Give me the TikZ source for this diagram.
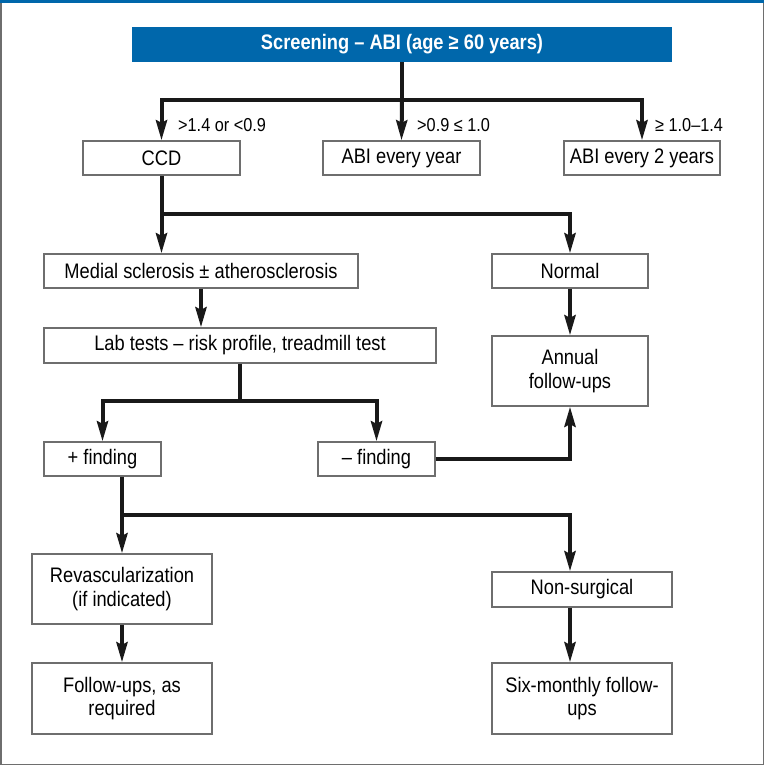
\documentclass[tikz,border=0pt]{standalone}
\usepackage{fontspec}
\setmainfont[FakeStretch=0.87]{Liberation Sans}
\usetikzlibrary{arrows.meta,calc}
\definecolor{titleblue}{RGB}{0,103,171}
\definecolor{framegray}{RGB}{110,110,110}
\tikzset{
  box/.style={draw=framegray, line width=1.4pt, fill=white, align=center, inner sep=0pt,
    font=\fontsize{21}{23.5}\selectfont},
  arr/.style={line width=4pt, draw=black!90, -{Stealth[length=20pt,width=11pt,inset=2.5pt]}},
  ln/.style={line width=4pt, draw=black!90},
  lbl/.style={font=\fontsize{18.7}{21}\selectfont, anchor=west, inner sep=0pt}
}
\begin{document}
\begin{tikzpicture}[x=1pt,y=-1pt]
\useasboundingbox (0,0) rectangle (764,765);
\fill[white] (0,0) rectangle (764,765);
\draw[framegray, line width=1.5pt] (0.75,2) -- (0.75,764.25) -- (763.25,764.25) -- (763.25,2);
\fill[titleblue] (0,0) rectangle (764,3);

\node[fill=titleblue, text=white, minimum width=540pt, minimum height=35pt, inner sep=0pt,
  font=\bfseries\fontsize{21}{24}\selectfont] (title) at (402,44.5) {Screening – ABI (age ≥ 60 years)};

\node[box, minimum width=157pt, minimum height=34pt] (ccd) at (161.5,158) {CCD};
\node[box, minimum width=157pt, minimum height=34pt] (abi1) at (401.5,158) {ABI every year};
\node[box, minimum width=156pt, minimum height=34pt] (abi2) at (642,158) {ABI every 2 years};

\node[box, minimum width=314pt, minimum height=34pt] (medial) at (201,271) {Medial sclerosis ± atherosclerosis};
\node[box, minimum width=156pt, minimum height=34pt] (normal) at (570,271) {Normal};

\node[box, minimum width=392pt, minimum height=35pt] (lab) at (240,345.5) {Lab tests – risk profile, treadmill test};
\node[box, minimum width=156pt, minimum height=70pt] (annual) at (570,371) {Annual\\follow-ups};

\node[box, minimum width=117pt, minimum height=34pt] (plus) at (102.5,459) {+ finding};
\node[box, minimum width=117pt, minimum height=34pt] (minus) at (376.5,459) {– finding};

\node[box, minimum width=180pt, minimum height=70pt] (revasc) at (122,589) {Revascularization\\(if indicated)};
\node[box, minimum width=180pt, minimum height=35pt] (nonsurg) at (582,589.5) {Non-surgical};
\node[box, minimum width=180pt, minimum height=71pt] (follow) at (122,698.5) {Follow-ups, as\\required};
\node[box, minimum width=180pt, minimum height=71pt] (six) at (582,698.5) {Six-monthly follow-\\ups};

\node[lbl] (l1) at (178,125) {>1.4 or <0.9};
\node[lbl] (l2) at (417,125) {>0.9 ≤ 1.0};
\node[lbl] (l3) at (655,125) {≥ 1.0–1.4};

% connectors
\coordinate (j1) at (402,100);
\draw[ln] (title.south) -- (j1);
\draw[arr] (j1) -| (ccd.north);
\draw[arr] (j1) -| (abi2.north);
\draw[arr] (j1) -- (abi1.north);

\coordinate (j2) at (161.5,214);
\draw[ln] (ccd.south) -- (j2);
\draw[arr] (j2) -- (j2 |- medial.north);
\draw[arr] (j2) -| (normal.north);

\draw[arr] (medial.south) -- (medial.south |- lab.north);
\draw[arr] (normal.south) -- (annual.north);

\coordinate (j3) at (240,401);
\draw[ln] (lab.south) -- (j3);
\draw[arr] (j3) -| (plus.north);
\draw[arr] (j3) -| (minus.north);

\draw[arr] (minus.east) -| (annual.south);

\coordinate (j4) at (122,515);
\draw[ln] (revasc.north |- plus.south) -- (j4);
\draw[arr] (j4) -- (revasc.north);
\coordinate (ns) at (nonsurg.north -| normal.south);
\draw[arr] (j4) -| (ns);

\draw[arr] (revasc.south) -- (follow.north);
\draw[arr] (nonsurg.south -| normal.south) -- (six.north -| normal.south);
\end{tikzpicture}
\end{document}
